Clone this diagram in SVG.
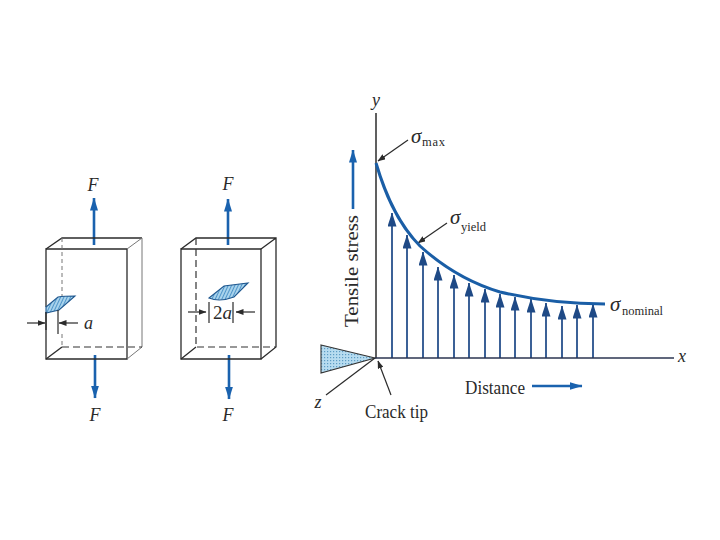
<svg xmlns="http://www.w3.org/2000/svg" width="720" height="540" viewBox="0 0 720 540">
<style>
text{font-family:"Liberation Serif",serif;fill:#2a2a2a}
.i{font-style:italic}
.lbl{font-size:18px}
.sub{font-size:12.5px}
.box{fill:none;stroke:#2b2b2b;stroke-width:1.3}
.dash{fill:none;stroke:#333;stroke-width:1.2;stroke-dasharray:7 4}
.faint{fill:none;stroke:#777;stroke-width:1}
.blue{fill:none;stroke:#1a62ae;stroke-width:2.6}
.thin{fill:none;stroke:#2b2b2b;stroke-width:1.2}
.st{fill:none;stroke:#26508c;stroke-width:1.8}
.crack{fill:url(#hatch);stroke:#20588f;stroke-width:1.1}
</style>
<defs>
<marker id="bh" markerUnits="userSpaceOnUse" markerWidth="13" markerHeight="8" refX="12.5" refY="4" orient="auto" viewBox="0 0 13 8"><path d="M0 0L13 4L0 8z" fill="#1a62ae"/></marker>
<marker id="nh" markerUnits="userSpaceOnUse" markerWidth="14" markerHeight="9" refX="13.5" refY="4.5" orient="auto" viewBox="0 0 14 9"><path d="M0 0L14 4.5L0 9z" fill="#1f4a86"/></marker>
<marker id="kh" markerUnits="userSpaceOnUse" markerWidth="8" markerHeight="6" refX="7.5" refY="3" orient="auto" viewBox="0 0 8 6"><path d="M0 0L8 3L0 6z" fill="#2b2b2b"/></marker>
<pattern id="hatch" width="3" height="3" patternUnits="userSpaceOnUse" patternTransform="rotate(25)"><rect width="3" height="3" fill="#a9d3ec"/><rect width="1" height="3" fill="#4f95c9"/></pattern>
<pattern id="dots" width="3" height="3" patternUnits="userSpaceOnUse"><rect width="3" height="3" fill="#b7dcf0"/><rect width="1.2" height="1.2" fill="#5d9cc4"/></pattern>
</defs>

<g id="connectors">
<path class="blue" d="M94 245V198" marker-end="url(#bh)"/>
<path class="blue" d="M95 355V398" marker-end="url(#bh)"/>
<path class="blue" d="M228 245V199" marker-end="url(#bh)"/>
<path class="blue" d="M229 355V399" marker-end="url(#bh)"/>
<path class="blue" d="M353 209V150" marker-end="url(#bh)"/>
<path class="blue" d="M532 386H582" marker-end="url(#bh)"/>
<path class="thin" d="M27 323H45" marker-end="url(#kh)"/>
<path class="thin" d="M78 323H59" marker-end="url(#kh)"/>
<path class="thin" d="M188 312H206" marker-end="url(#kh)"/>
<path class="thin" d="M255 312H236" marker-end="url(#kh)"/>
<path class="thin" d="M408 140L378 161" marker-end="url(#kh)"/>
<path class="thin" d="M447 223L418 243" marker-end="url(#kh)"/>
<path class="thin" d="M391 395L378 361" marker-end="url(#kh)"/>
<g id="stress-arrows">
<path class="st" d="M392 358V213" marker-end="url(#nh)"/>
<path class="st" d="M407 358V235" marker-end="url(#nh)"/>
<path class="st" d="M423 358V252" marker-end="url(#nh)"/>
<path class="st" d="M438 358V267" marker-end="url(#nh)"/>
<path class="st" d="M454 358V275" marker-end="url(#nh)"/>
<path class="st" d="M469 358V283" marker-end="url(#nh)"/>
<path class="st" d="M485 358V289" marker-end="url(#nh)"/>
<path class="st" d="M500 358V294" marker-end="url(#nh)"/>
<path class="st" d="M515 358V297" marker-end="url(#nh)"/>
<path class="st" d="M531 358V299" marker-end="url(#nh)"/>
<path class="st" d="M546 358V303" marker-end="url(#nh)"/>
<path class="st" d="M562 358V306" marker-end="url(#nh)"/>
<path class="st" d="M577 358V305" marker-end="url(#nh)"/>
<path class="st" d="M593 358V304" marker-end="url(#nh)"/>
</g>
</g>

<g id="edge-crack-box">
<path class="box" d="M46 307V249H127V359H46V312"/>
<path class="box" d="M46 249L62 238H142"/>
<path class="faint" d="M142 238V347M127 249L142 238M127 359L142 347"/>
<path class="box" d="M46 359L62 347"/>
<path class="faint" d="M62 238V296M62 334V347" stroke-dasharray="4 3"/>
<path class="dash" d="M62 347H142"/>
<path class="crack" d="M46 307L58 297C64 296 70 296 75 296L59 310L46 313Z"/>
<path class="thin" d="M58 310V334M46 312V330"/>
<text class="lbl i" x="93" y="191" text-anchor="middle">F</text>
<text class="lbl i" x="95" y="421" text-anchor="middle">F</text>
<text class="lbl i" x="84" y="329">a</text>
</g>

<g id="center-crack-box">
<path class="box" d="M181 249H261V359H181Z"/>
<path class="box" d="M181 249L196 238H276V347L261 359M261 249L276 238M181 359L196 347"/>
<path class="dash" d="M196 238V347H276"/>
<path class="crack" d="M209 298L224 286C232 285 240 284 248 283L234 297C226 300 216 301 209 298Z"/>
<path class="thin" d="M209 302V323M233 302V323"/>
<text class="lbl i" x="228" y="190" text-anchor="middle">F</text>
<text class="lbl i" x="228" y="421" text-anchor="middle">F</text>
<text x="213" y="319" font-size="19">2<tspan class="i">a</tspan></text>
</g>

<g id="chart">
<path d="M321 345L375 358L321 373Z" fill="url(#dots)" stroke="#333" stroke-width="1.1"/>
<path d="M376 113V358" stroke="#2b2b2b" stroke-width="1.5" fill="none"/>
<path d="M375 358H674" stroke="#2b3550" stroke-width="1.5" fill="none"/>
<path d="M375 358L326 395" stroke="#2b2b2b" stroke-width="1.2" fill="none"/>
<path id="curve" d="M376 163C384 190 396 222 420 246C442 266 470 283 500 292C530 299 565 304 605 304" fill="none" stroke="#1a5ea6" stroke-width="3"/>
<text class="lbl i" x="376" y="106" text-anchor="middle">y</text>
<text class="lbl i" x="682" y="362" text-anchor="middle">x</text>
<text class="lbl i" x="318" y="408" text-anchor="middle">z</text>
<text x="0" y="0" font-size="18.5" textLength="112" lengthAdjust="spacingAndGlyphs" transform="translate(358 327) rotate(-90)">Tensile stress</text>
<text x="365" y="418" font-size="19" textLength="63" lengthAdjust="spacingAndGlyphs">Crack tip</text>
<text x="465" y="394" font-size="19" textLength="60" lengthAdjust="spacingAndGlyphs">Distance</text>
<text class="i" x="411" y="143" font-size="21">σ</text><text class="sub" x="422" y="146" textLength="23">max</text>
<text class="i" x="450" y="224" font-size="21">σ</text><text class="sub" x="461" y="231" textLength="25">yield</text>
<text class="i" x="610" y="311" font-size="21">σ</text><text class="sub" x="622" y="315" textLength="41">nominal</text>
</g>
</svg>
